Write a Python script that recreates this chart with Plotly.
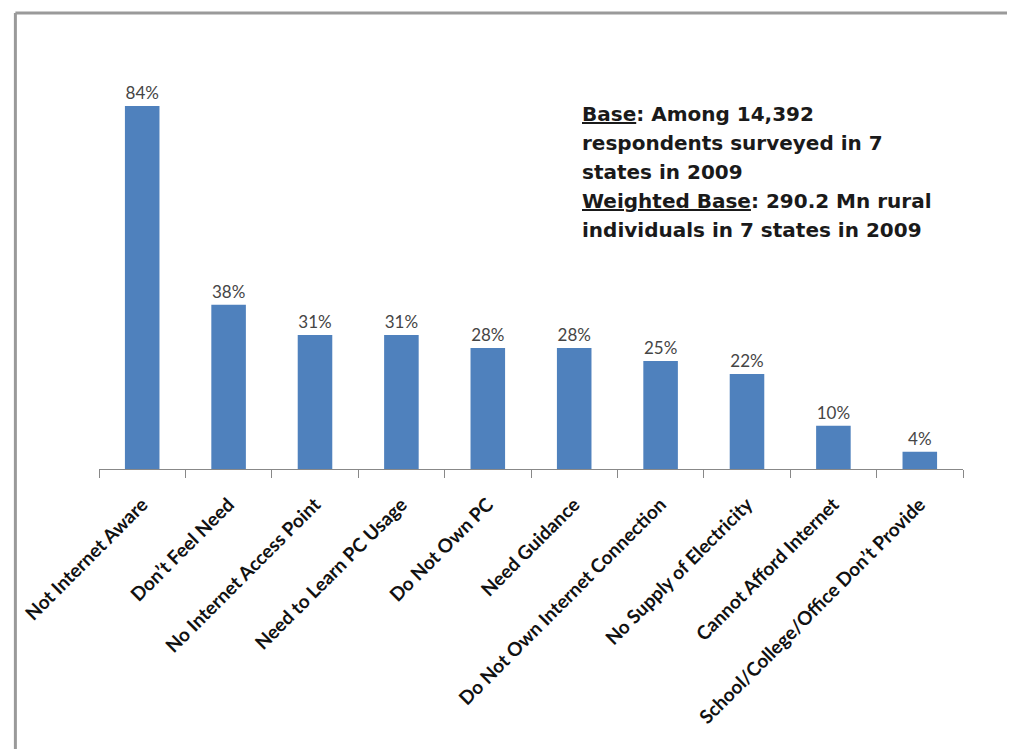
import plotly.graph_objects as go

categories = [
    "Not Internet Aware",
    "Don’t Feel Need",
    "No Internet Access Point",
    "Need to Learn PC Usage",
    "Do Not Own PC",
    "Need Guidance",
    "Do Not Own Internet Connection",
    "No Supply of Electricity",
    "Cannot Afford Internet",
    "School/College/Office Don’t Provide",
]
values = [84, 38, 31, 31, 28, 28, 25, 22, 10, 4]

note_lines = [
    "<u>Base</u>: Among 14,392",
    "respondents surveyed in 7",
    "states in 2009",
    "<u>Weighted Base</u>: 290.2 Mn rural",
    "individuals in 7 states in 2009",
]

OFFX, OFFY = 8, 8  # page offset
W, H = 1015, 749
# desired page-pixel plot box
PX0, PX1, PY0, PY1 = 95, 963, 80, 469
L = PX0 - OFFX
R = W - (PX1 - OFFX)
T = PY0 - OFFY
B = H - (PY1 - OFFY)
pw = PX1 - PX0
ph = PY1 - PY0

def px_x(x):
    return (x - PX0) / pw

def px_y(y):
    return (PY1 - y) / ph

fig = go.Figure()
fig.add_trace(go.Bar(
    x=categories, y=values,
    marker=dict(color="#4F81BD", line=dict(width=0)),
    width=0.4,
    text=[f"{v}%" for v in values],
    textposition="outside",
    textfont=dict(family="Lato", size=17, color="#454545"),
    cliponaxis=False,
))

# Frame lines
fig.add_shape(type="line", xref="paper", yref="paper",
              x0=px_x(11), x1=px_x(1040), y0=px_y(13), y1=px_y(13),
              line=dict(color="#9a9a9a", width=3))
fig.add_shape(type="line", xref="paper", yref="paper",
              x0=px_x(11), x1=px_x(11), y0=px_y(13), y1=px_y(770),
              line=dict(color="#9a9a9a", width=3))

line_ys = [114, 143, 172, 201, 230]
for txt, yy in zip(note_lines, line_ys):
    fig.add_annotation(
        text=f"<b>{txt}</b>", xref="paper", yref="paper",
        x=px_x(578), y=px_y(yy), xanchor="left", yanchor="middle",
        showarrow=False, align="left",
        font=dict(family="DejaVu Sans", size=20, color="#1a1a1a"),
    )

fig.update_layout(
    width=W, height=H,
    margin=dict(l=L, r=R, t=T, b=B),
    paper_bgcolor="white", plot_bgcolor="white",
    showlegend=False,
    xaxis=dict(
        type="category",
        tickson="boundaries",
        ticks="outside", ticklen=8, tickcolor="#888888", tickwidth=1,
        showline=True, linecolor="#888888", linewidth=1,
        showgrid=False,
        tickangle=-45,
        tickfont=dict(family="Lato", size=19, color="#111111", weight="bold"),
        ticklabelstandoff=16,
    ),
    yaxis=dict(range=[0, 90], visible=False, showgrid=False),
)

fig.write_html("out.html")
